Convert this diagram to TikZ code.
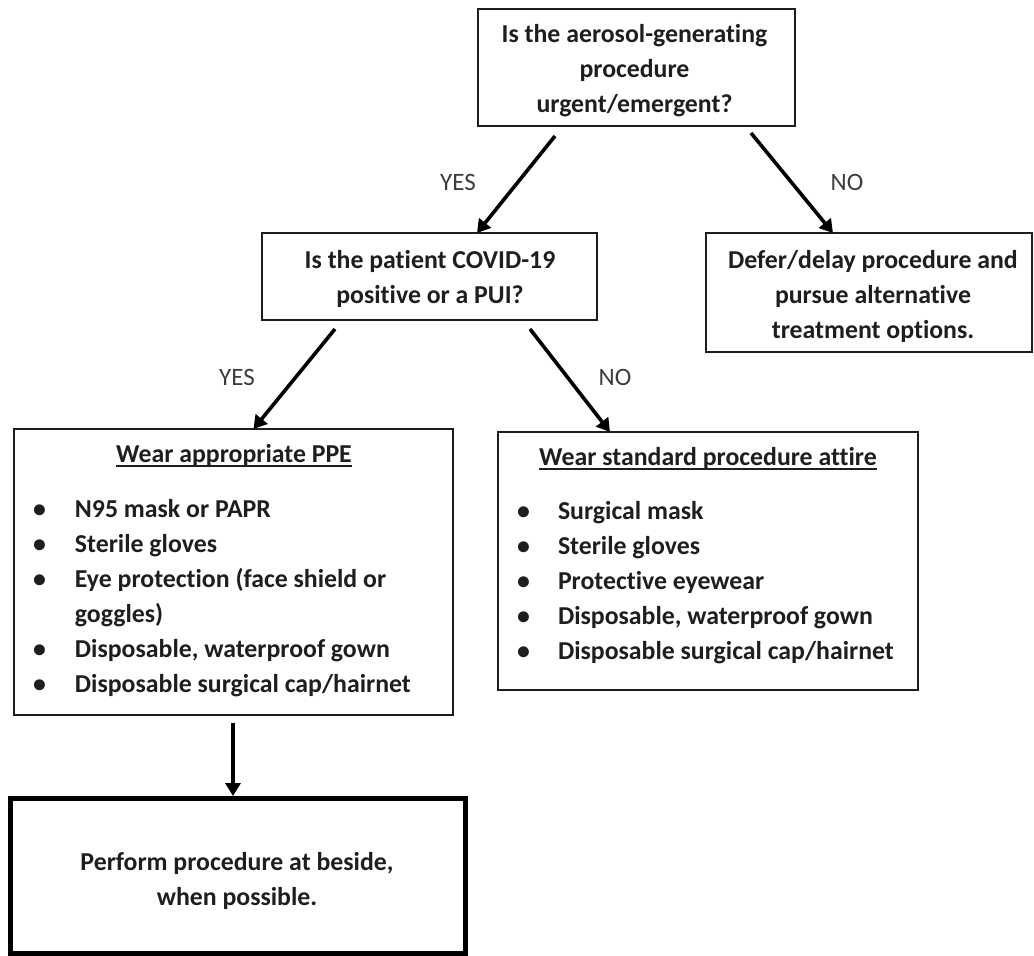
\documentclass[tikz,border=0pt]{standalone}
\usepackage{fontspec}
\setmainfont{Carlito}[Ligatures={NoCommon,NoRequired,NoContextual}]
\usetikzlibrary{arrows.meta,calc}
\definecolor{ink}{HTML}{1E1E1E}
\definecolor{lbl}{HTML}{3C3C3C}
\newcommand\ulin[1]{\setbox0\hbox{#1}\rlap{\raisebox{-4.5pt}{\rule{\wd0}{1.6pt}}}\box0}
\begin{document}
\begin{tikzpicture}[x=1pt,y=-1pt,
  every node/.style={inner sep=0pt,outer sep=0pt},
  boxs/.style={draw=ink,line width=2.6pt,rectangle},
  bigbox/.style={draw=black,line width=5pt,rectangle},
  txt/.style={text=ink,font=\fontsize{25.8}{35}\selectfont\bfseries},
  lab/.style={text=lbl,font=\fontsize{25}{35}\selectfont},
  arr/.style={draw=black,line width=3.6pt,-{Triangle[length=13pt,width=15pt]}}]
\useasboundingbox (0,0) rectangle (1034,956);
% boxes
\node[boxs,minimum width=317pt,minimum height=117pt] (q1) at (636.5,67.5) {};
\node[boxs,minimum width=335pt,minimum height=87pt] (q2) at (429.5,276.5) {};
\node[boxs,minimum width=326pt,minimum height=119pt] (defer) at (869,292.5) {};
\node[boxs,minimum width=439pt,minimum height=286pt] (ppe) at (233.5,572) {};
\node[boxs,minimum width=420pt,minimum height=258pt] (std) at (708,561) {};
\node[bigbox,minimum width=455pt,minimum height=155pt] (perf) at (237.5,875.5) {};
% texts
\node[txt] (q1t) at (634.5,70) {\begin{tabular}{@{}c@{}}Is the aerosol-generating\\procedure\\urgent/emergent?\end{tabular}};
\node[txt] (q2t) at (430,278.5) {\begin{tabular}{@{}c@{}}Is the patient COVID-19\\positive or a PUI?\end{tabular}};
\node[txt] (defert) at (873,296) {\begin{tabular}{@{}c@{}}Defer/delay procedure and\\pursue alternative\\treatment options.\end{tabular}};
\node[txt] (perft) at (237,880.5) {\begin{tabular}{@{}c@{}}Perform procedure at beside,\\when possible.\end{tabular}};
\node[txt] (ppetitle) at (234,455) {\begin{tabular}{@{}c@{}}\ulin{Wear appropriate PPE}\end{tabular}};
\node[txt] (stdtitle) at (708,458) {\begin{tabular}{@{}c@{}}\ulin{Wear standard procedure attire}\end{tabular}};
\node[txt,anchor=west] (ppelist) at (33,597.5) {\begin{tabular}{@{}p{42pt}@{}l@{}}
\textbullet & N95 mask or PAPR\\
\textbullet & Sterile gloves\\
\textbullet & Eye protection (face shield or\\
 & goggles)\\
\textbullet & Disposable, waterproof gown\\
\textbullet & Disposable surgical cap/hairnet
\end{tabular}};
\node[txt,anchor=west] (stdlist) at (517,582) {\begin{tabular}{@{}p{41pt}@{}l@{}}
\textbullet & Surgical mask\\
\textbullet & Sterile gloves\\
\textbullet & Protective eyewear\\
\textbullet & Disposable, waterproof gown\\
\textbullet & Disposable surgical cap/hairnet
\end{tabular}};
% labels
\node[lab] (yes1) at (458,182) {YES};
\node[lab] (no1) at (847,182) {NO};
\node[lab] (yes2) at (237,377) {YES};
\node[lab] (no2) at (615,377) {NO};
% arrows
\draw[arr] ($(q1.south)+(-81.5,10)$) -- ($(q2.north)+(47.5,0)$);
\draw[arr] ($(q1.south)+(114.5,7)$) -- ($(defer.north)+(-36,0)$);
\draw[arr] ($(q2.south)+(-94.5,9)$) -- ($(ppe.north)+(20,0)$);
\draw[arr] ($(q2.south)+(100.5,9)$) -- ($(std.north)+(-98,0)$);
\draw[arr] ($(ppe.south)+(-0.5,8)$) -- ($(perf.north)+(-4.5,-2)$);
\end{tikzpicture}
\end{document}
